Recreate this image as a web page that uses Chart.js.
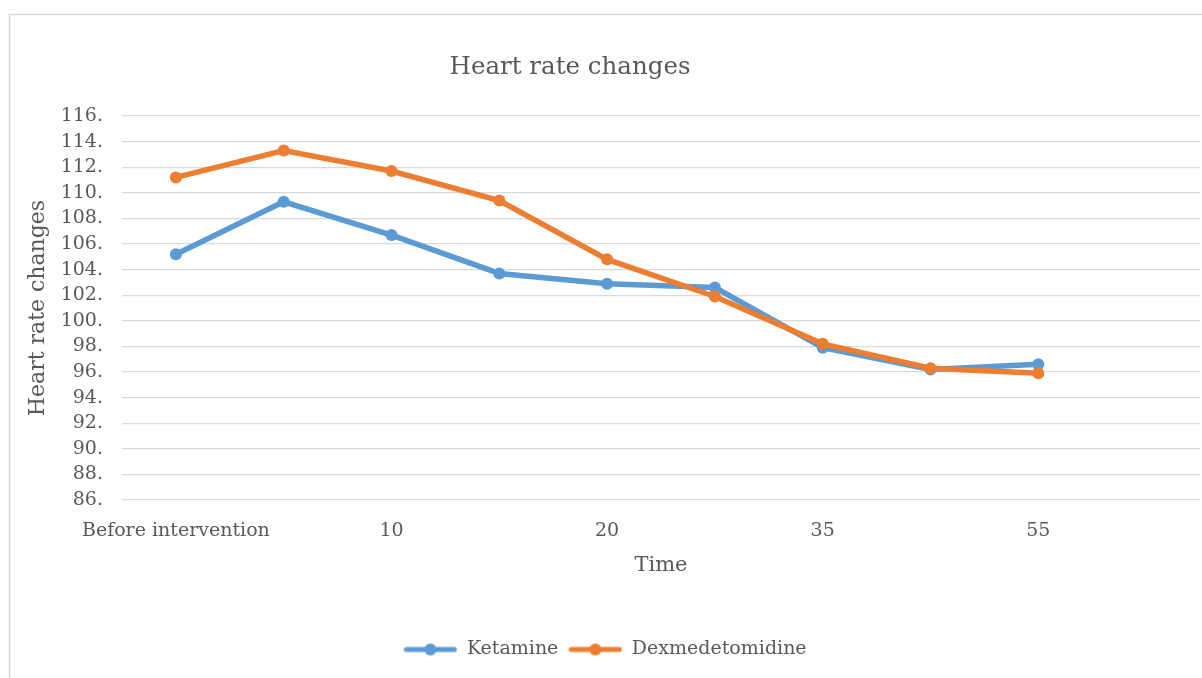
<!DOCTYPE html>
<html>
<head>
<meta charset="utf-8">
<script src="https://cdn.jsdelivr.net/npm/chart.js@4.4.1/dist/chart.umd.min.js"></script>
<style>
  html, body { margin: 0; padding: 0; background: #ffffff; }
  #wrap { width: 1202px; height: 678px; }
</style>
</head>
<body>
<div id="wrap"><canvas id="myChart" width="1202" height="678"></canvas></div>
<script>
// Heart rate changes - Excel style line chart

const categories = ['Before intervention', '5', '10', '15', '20', '25', '35', '45', '55', ''];
const ketamine = [105.2, 109.3, 106.7, 103.7, 102.9, 102.6, 97.9, 96.2, 96.6, null];
const dexmedetomidine = [111.2, 113.3, 111.7, 109.4, 104.8, 101.9, 98.2, 96.3, 95.9, null];
const yTicks = [86, 88, 90, 92, 94, 96, 98, 100, 102, 104, 106, 108, 110, 112, 114, 116];

const blue = '#5b9bd5';
const orange = '#ed7d31';
const grey = '#595959';
const serif = "'DejaVu Serif', serif";

// small legend icon: line with a dot in the middle
function legendIcon(color) {
    const c = document.createElement('canvas');
    c.width = 54;
    c.height = 14;
    const g = c.getContext('2d');
    g.strokeStyle = color;
    g.lineWidth = 5;
    g.lineCap = 'round';
    g.beginPath();
    g.moveTo(3, 7);
    g.lineTo(51, 7);
    g.stroke();
    g.fillStyle = color;
    g.beginPath();
    g.arc(27, 7, 6, 0, Math.PI * 2);
    g.fill();
    return c;
}

// frame + title drawn by hand (Excel places the title off-centre)
const decor = {
    id: 'decor',
    beforeDraw(chart) {
        const ctx = chart.ctx;
        ctx.save();
        ctx.strokeStyle = '#d9d9d9';
        ctx.lineWidth = 1.5;
        ctx.beginPath();
        ctx.moveTo(9.5, 678);
        ctx.lineTo(9.5, 14.5);
        ctx.lineTo(1202, 14.5);
        ctx.stroke();
        ctx.restore();
    },
    afterDraw(chart) {
        const ctx = chart.ctx;
        ctx.save();
        ctx.fillStyle = grey;
        ctx.font = "24.5px " + serif;
        ctx.textAlign = 'center';
        ctx.textBaseline = 'middle';
        ctx.fillText('Heart rate changes', 570, 68);
        ctx.restore();
    }
};

const ctx = document.getElementById('myChart');

const myChart = new Chart(ctx, {
    type: 'line',
    data: {
        labels: categories,
        datasets: [{
            label: 'Ketamine',
            data: ketamine,
            borderColor: blue,
            backgroundColor: blue,
            borderWidth: 5.5,
            pointRadius: 6,
            pointBorderWidth: 0,
            pointBackgroundColor: blue,
            order: 1
        },
        {
            label: 'Dexmedetomidine',
            data: dexmedetomidine,
            borderColor: orange,
            backgroundColor: orange,
            borderWidth: 5.5,
            pointRadius: 6,
            pointBorderWidth: 0,
            pointBackgroundColor: orange,
            order: 0
        }]
    },
    options: {
        responsive: false,
        animation: false,
        layout: {
            autoPadding: false,
            padding: { top: 116, left: 10, right: 2, bottom: 9 }
        },
        scales: {
            x: {
                offset: true,
                grid: { display: false },
                border: { display: false },
                ticks: {
                    autoSkip: false,
                    maxRotation: 0,
                    padding: 12,
                    color: grey,
                    font: { family: serif, size: 19 },
                    callback: function(value, index) {
                        return index % 2 === 0 ? categories[index] : '';
                    }
                },
                title: {
                    display: true,
                    text: 'Time',
                    color: grey,
                    font: { family: serif, size: 21 },
                    padding: { top: 0, bottom: 52 }
                },
                afterFit: function(scale) { scale.height = 130; }
            },
            y: {
                min: 86,
                max: 116,
                border: { display: false },
                grid: { color: '#d9d9d9', lineWidth: 1.3, drawTicks: false },
                afterBuildTicks: function(scale) {
                    scale.ticks = yTicks.map(v => ({ value: v }));
                },
                ticks: {
                    autoSkip: false,
                    stepSize: 2,
                    padding: 19,
                    color: grey,
                    font: { family: serif, size: 19 },
                    callback: v => v + '.'
                },
                title: {
                    display: true,
                    text: 'Heart rate changes',
                    color: grey,
                    font: { family: serif, size: 22 },
                    padding: { top: 15, bottom: 0 }
                },
                afterFit: function(scale) { scale.width = 112; }
            }
        },
        plugins: {
            title: { display: false },
            tooltip: { enabled: false },
            legend: {
                position: 'bottom',
                labels: {
                    usePointStyle: true,
                    pointStyleWidth: 54,
                    boxHeight: 14,
                    padding: 10,
                    color: grey,
                    font: { family: serif, size: 19 },
                    sort: (a, b) => a.datasetIndex - b.datasetIndex,
                    generateLabels: function(chart) {
                        const items = Chart.defaults.plugins.legend.labels.generateLabels(chart);
                        items.forEach(item => {
                            const ds = chart.data.datasets[item.datasetIndex];
                            item.pointStyle = legendIcon(ds.borderColor);
                        });
                        return items;
                    }
                }
            }
        }
    },
    plugins: [decor]
});
</script>
</body>
</html>
